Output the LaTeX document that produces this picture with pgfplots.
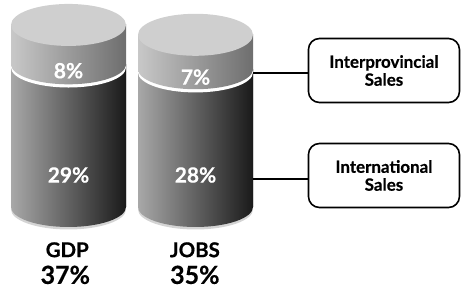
\documentclass[border=0pt]{standalone}
\usepackage{fontspec}
\setmainfont{Lato}[BoldFeatures={FakeBold=0.5}]
\usepackage{pgfplots}
\pgfplotsset{compat=1.18}
\usetikzlibrary{shapes.geometric}
\definecolor{topL}{HTML}{C8C8C8}
\definecolor{topR}{HTML}{6E6E6E}
\definecolor{botL}{HTML}{A8A8A8}
\definecolor{botR}{HTML}{1A1A1A}
\definecolor{capc}{HTML}{CFCFCF}
\definecolor{sliver}{HTML}{D4D4D4}
\begin{document}
\begin{tikzpicture}
\begin{axis}[
  width=461bp, height=293bp, scale only axis, hide axis, clip=false,
  xmin=-0.5394, xmax=3.0906, ymin=-17.48, ymax=42.07,
  cyl/.style={ybar, bar width=115bp, bar shift=0pt, draw=none},
  capplot/.style={draw=none, mark=none, nodes near coords={},
    every node near coord/.style={ellipse, anchor=center, inner sep=0pt, outer sep=0pt,
      minimum width=115bp, minimum height=40bp, draw=none}},
  lblplot/.style={draw=none, mark=none, nodes near coords, point meta=explicit symbolic,
    every node near coord/.style={anchor=center, inner sep=0pt, text=white,
      font=\bfseries\fontsize{21}{21}\selectfont}},
]
\path (rel axis cs:0,0) rectangle (rel axis cs:1,1);
% totals (Interprovincial + International)
\addplot[cyl, left color=topL, right color=topR] coordinates {(0,37)};
\addplot[cyl, left color=topL, right color=topR] coordinates {(1,35)};
% bottom rim
\addplot[capplot, every node near coord/.append style={fill=sliver, yshift=-2.5bp}] coordinates {(0,0) (1,0)};
\addplot[capplot, every node near coord/.append style={left color=botL, right color=botR}] coordinates {(0,0) (1,0)};
% International sales
\addplot[cyl, left color=botL, right color=botR] coordinates {(0,29)};
\addplot[cyl, left color=botL, right color=botR] coordinates {(1,28)};
% separator
\addplot[capplot, every node near coord/.append style={fill=white, yshift=-3.2bp}] coordinates {(0,29) (1,28)};
\addplot[capplot, every node near coord/.append style={left color=topL, right color=topR}] coordinates {(0,29) (1,28)};
% top caps
\addplot[capplot, every node near coord/.append style={fill=capc, minimum height=42bp}] coordinates {(0,37) (1,35)};
% segment labels
\addplot[lblplot] coordinates {(0,27.7) [8\%] (1,26.4) [7\%] (0,6.5) [29\%] (1,6.5) [28\%]};

\node[font=\bfseries\fontsize{20.5}{20.5}\selectfont] at (axis cs:-0.01,-8.7) {GDP};
\node[font=\bfseries\fontsize{25}{25}\selectfont] at (axis cs:-0.025,-13.8) {37\%};
\node[font=\bfseries\fontsize{20.5}{20.5}\selectfont] at (axis cs:0.995,-8.7) {JOBS};
\node[font=\bfseries\fontsize{25}{25}\selectfont] at (axis cs:0.995,-13.8) {35\%};

\draw[line width=1.3bp] (axis cs:1.45,27.24) -- (axis cs:1.886,27.24);
\draw[line width=1.3bp] (axis cs:1.45,5.69) -- (axis cs:1.886,5.69);
\node[draw, line width=1.6bp, rounded corners=11bp, minimum width=151bp, minimum height=64bp, align=center,
  font=\bfseries\fontsize{17}{18}\selectfont] at (axis cs:2.484,27.74) {Interprovincial\\Sales};
\node[draw, line width=1.6bp, rounded corners=11bp, minimum width=151bp, minimum height=64bp, align=center,
  font=\bfseries\fontsize{17}{18}\selectfont] at (axis cs:2.484,6.4) {International\\Sales};
\end{axis}
\end{tikzpicture}
\end{document}
